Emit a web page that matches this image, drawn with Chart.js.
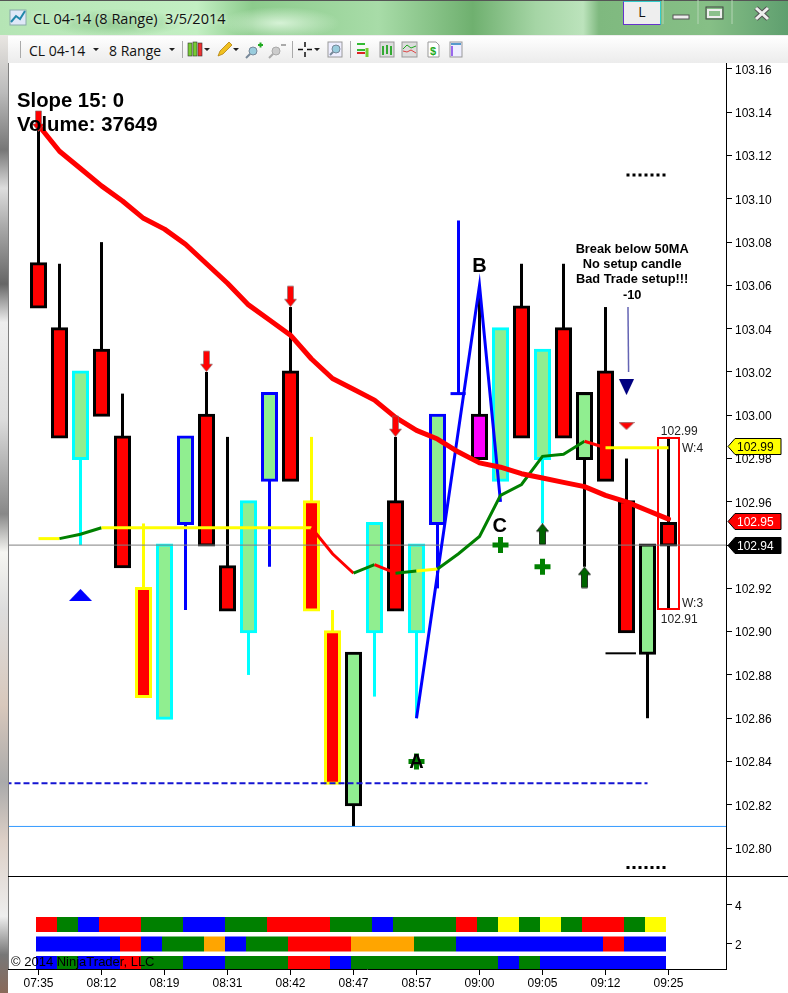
<!DOCTYPE html>
<html><head><meta charset="utf-8"><title>CL 04-14 (8 Range)</title>
<script src="https://cdn.jsdelivr.net/npm/chart.js@4"></script>
<style>
html,body{margin:0;padding:0;background:#fff;width:788px;height:993px;overflow:hidden}
#title{position:absolute;left:0;top:0;width:788px;height:35px;overflow:hidden;background:
 radial-gradient(ellipse 70px 14px at 115px 22px,#8fc98f 0%,rgba(143,201,143,0) 100%),
 radial-gradient(ellipse 60px 16px at 280px 22px,#d6f2d6 0%,rgba(214,242,214,0) 100%),
 linear-gradient(90deg,#b5e5b5 0%,#c3efc3 25%,#8ccb8c 32%,#a8dca8 48%,#6fb06f 60%,#a5d5a5 68%,#bce3bc 74%,#7fb97f 76%,#86bf86 90%,#5f9f6f 100%);
 border-top:1px solid #555;box-sizing:border-box}
#tt{position:absolute;left:33px;top:8px;font:14.5px "Open Sans",sans-serif;color:#111;white-space:pre;text-shadow:0 0 4px #eaffea}
#tools{position:absolute;left:8px;top:35px;width:780px;height:28px;background:linear-gradient(#fff,#f3f3f3 60%,#ececec);border-top:1px solid #eee;box-sizing:border-box}
.tb{position:absolute;top:41px;font:14px "Open Sans",sans-serif;color:#111;white-space:pre}
.sep{position:absolute;top:41px;width:1px;height:17px;background:#aaa}
.ic{position:absolute;left:0;top:0}
#strip{position:absolute;left:0;top:35px;width:8px;height:958px;background:linear-gradient(#e9e6e2 0%,#bbb 6%,#777 12%,#ddd 16%,#aaa 20%,#666 26%,#eee 30%,#ddd 40%,#888 50%,#f6f6f2 54%,#ddd 60%,#d8c8bc 70%,#aaa 78%,#dccfc6 84%,#eee 92%,#777 96%,#8a6a5a 100%)}
#c{position:absolute;left:0;top:63px}
#L{position:absolute;left:623px;top:1px;width:36px;height:22px;background:#eee;border:1px solid #3cc;border-bottom-color:#63c;border-left-color:#63c;font:14px "Open Sans",sans-serif;text-align:center;color:#111;line-height:20px}
</style></head><body>
<div id="title"><div id="tt">CL 04-14 (8 Range)  3/5/2014</div></div>
<div id="strip"></div>
<div id="tools"></div>
<div class="tb" style="left:29px">CL 04-14</div><div class="tb" style="left:109px">8 Range</div>
<div class="sep" style="left:20px"></div><div class="sep" style="left:182px"></div><div class="sep" style="left:292px"></div><div class="sep" style="left:350px"></div>
<div id="L">L</div>
<svg class="ic" width="788" height="63" viewBox="0 0 788 63">
 <rect x="10" y="10" width="16" height="15" fill="#dfe8f8" stroke="#8aa"/><path d="M11 22l5-6 4 3 5-8" stroke="#28a" stroke-width="2" fill="none"/>
 <path d="M93 48h6l-3 3zM169 48h6l-3 3zM204 48h6l-3 3zM233 48h6l-3 3zM314 48h6l-3 3z" fill="#222"/>
 <rect x="188" y="43" width="4" height="13" fill="#7c3" stroke="#333" stroke-width=".6"/><rect x="193" y="42" width="4" height="14" fill="#7c3" stroke="#333" stroke-width=".6"/><rect x="198" y="43" width="4" height="13" fill="#e33" stroke="#333" stroke-width=".6"/>
 <path d="M218 56l2-5 9-9 3 3-9 9z" fill="#f0c020" stroke="#a70" stroke-width=".7"/>
 <circle cx="253" cy="51" r="4" fill="#9cd" stroke="#789"/><path d="M250 54l-4 4" stroke="#789" stroke-width="2"/><path d="M258 45h5M260.5 42.500v5" stroke="#2a2" stroke-width="2"/>
 <circle cx="276" cy="51" r="4" fill="#ccc" stroke="#aaa"/><path d="M273 54l-4 4" stroke="#aaa" stroke-width="2"/><path d="M281 45h5" stroke="#aaa" stroke-width="2"/>
 <path d="M298 49.500h5M307 49.500h5M305 42v5M305 52v5" stroke="#111" stroke-width="1.500"/>
 <rect x="328" y="42" width="14" height="15" fill="#eef" stroke="#999"/><circle cx="336" cy="49" r="4" fill="#9cd" stroke="#789"/><path d="M333 52l-3 3" stroke="#789" stroke-width="2"/>
 <path d="M357 44h8M357 50h8" stroke="#3b3" stroke-width="2"/><path d="M357 53h8" stroke="#d22" stroke-width="2"/><path d="M367 48v9" stroke="#7c3" stroke-width="3"/>
 <rect x="380" y="42" width="14" height="15" fill="#ddd" stroke="#999"/><path d="M383 46v9M387 45v9M391 46v9" stroke="#3a3" stroke-width="2"/>
 <rect x="402" y="42" width="15" height="15" fill="#ddd" stroke="#999"/><path d="M403 49l4-4 4 3 5-2" stroke="#2a2" fill="none"/><path d="M403 51l4 1 4-2 5 3" stroke="#d44" fill="none"/>
 <path d="M428 42h8l3 3v12h-11z" fill="#fff" stroke="#999"/><text x="430" y="55" font-family="Liberation Sans" font-weight="bold" font-size="11" fill="#2a2">$</text>
 <rect x="450" y="42" width="12" height="15" fill="#eef" stroke="#999"/><rect x="451" y="43" width="10" height="2" fill="#59c"/><rect x="451" y="46" width="2" height="10" fill="#96e"/>
 <path d="M663 0V24M698 0V24M732 0V24" stroke="#b5d5b5" stroke-width="1"/>
 <rect x="673" y="15" width="16" height="4" fill="#eee" stroke="#555"/>
 <rect x="706" y="7" width="17" height="12" fill="none" stroke="#444" stroke-width="1"/><rect x="708" y="10" width="13" height="7" fill="#8bc08b" stroke="#eee" stroke-width="2"/>
 <path d="M756 8l12 11M768 8l-12 11" stroke="#555" stroke-width="5"/><path d="M756 8l12 11M768 8l-12 11" stroke="#eee" stroke-width="3"/>
</svg>
<canvas id="c" width="788" height="930"></canvas>
<script>
// ---- data ----
const timeLabels = ['07:35','08:12','08:19','08:31','08:42','08:47','08:57','09:00','09:05','09:12','09:25'];
const priceTicks = [103.16,103.14,103.12,103.10,103.08,103.06,103.04,103.02,103.00,102.98,102.96,102.94,102.92,102.90,102.88,102.86,102.84,102.82,102.80];
const panelTicks = [4,2];
const bodyTop    = [103.07,103.04,103.02,103.03,102.99,102.92,102.94,102.99,103.00,102.93,102.96,103.01,103.02,102.96,102.90,102.89,102.95,102.96,102.94,103.00,null,103.00,103.04,103.05,103.03,103.04,103.01,103.02,102.96,102.94,102.95];
const bodyBottom = [103.05,102.99,102.98,103.00,102.93,102.87,102.86,102.95,102.94,102.91,102.90,102.97,102.97,102.91,102.83,102.82,102.90,102.91,102.90,102.95,null,102.98,102.97,102.99,102.98,102.99,102.98,102.97,102.90,102.89,102.94];
const wickHigh   = [103.14,103.07,103.02,103.08,103.01,102.95,102.94,102.99,103.02,102.99,102.96,103.01,103.05,102.99,102.91,102.89,102.95,102.99,102.94,103.00,103.09,103.06,103.04,103.07,103.03,103.07,103.01,103.05,102.98,102.94,102.99];
const wickLow    = [103.05,102.99,102.94,103.00,102.93,102.87,102.86,102.91,102.94,102.91,102.88,102.93,102.97,102.91,102.83,102.81,102.87,102.91,102.86,102.92,103.01,102.98,102.97,102.99,102.95,102.99,102.93,102.97,102.90,102.86,102.91];
const barOutline = ['black','black','aqua','black','black','yellow','aqua','blue','black','black','aqua','blue','black','yellow','yellow','black','aqua','black','aqua','blue','blue','black','aqua','black','aqua','black','black','black','black','black','black'];
const barFill    = ['red','red','lightgreen','red','red','red','lightgreen','lightgreen','red','red','lightgreen','lightgreen','red','red','red','lightgreen','lightgreen','red','lightgreen','lightgreen','blue','magenta','lightgreen','red','lightgreen','red','lightgreen','red','red','lightgreen','red'];
const ma50 = [103.134,103.122,103.114,103.106,103.099,103.091,103.086,103.079,103.070,103.061,103.051,103.044,103.037,103.026,103.017,103.012,103.007,102.999,102.993,102.989,102.983,102.978,102.976,102.973,102.971,102.969,102.967,102.963,102.960,102.956,102.952];
const signal = [102.943,102.943,102.945,102.948,102.948,102.948,102.948,102.948,102.948,102.948,102.948,102.948,102.948,102.948,102.936,102.927,102.931,102.927,102.928,102.929,102.936,102.944,102.963,102.968,102.981,102.982,102.988,102.985,102.985,102.985,102.985];
const signalSeg = ['yellow','green','green','yellow','yellow','yellow','yellow','yellow','yellow','yellow','yellow','yellow','yellow','red','red','green','red','green','yellow','green','green','green','green','green','green','green','red','yellow','yellow','yellow'];
const stripA = ['red','green','blue','red','red','green','green','blue','blue','green','green','red','red','red','green','green','blue','green','green','green','red','green','yellow','green','yellow','green','red','red','green','yellow'];
const stripB = ['blue','blue','blue','blue','red','blue','green','green','orange','blue','green','green','red','red','red','orange','orange','orange','green','green','blue','blue','blue','blue','blue','blue','blue','red','blue','blue'];
const stripC = ['blue','green','blue','blue','red','green','green','blue','blue','green','green','green','red','red','blue','green','green','green','green','green','green','green','blue','green','blue','blue','blue','blue','blue','blue'];
const zigzagX = [18,21,22];
const zigzagY = [102.86,103.06,102.96];
const lastPrice = 102.94, dashedPrice = 102.83, lowLine = 102.81;
const downArrows = [[0,103.136],[8,103.025],[12,103.055],[17,102.995]];
const upArrows = [[24,102.945],[26,102.925]];
const plusMarks = [[22,102.94],[24,102.93],[18,102.84]];

const colourOf = {black:'#000',aqua:'#00ffff',yellow:'#ffff00',blue:'#0000ff',red:'#ff0000',green:'#008000',orange:'#ffa500',lightgreen:'#90ee90',magenta:'#ff00ff'};
const c = n => colourOf[n];
const idx = bodyTop.map((_,i)=>i);

function sprite(w,h,draw){const s=document.createElement('canvas');s.width=w;s.height=h;draw(s.getContext('2d'));return s;}
function arrow(fill,down,edge,lw){return sprite(13,22,g=>{
  if(down){g.translate(0,22);g.scale(1,-1);}
  g.beginPath();g.moveTo(6.500,.5);g.lineTo(12.5,8);g.lineTo(9.5,8);g.lineTo(9.5,21);g.lineTo(3.5,21);g.lineTo(3.5,8);g.lineTo(.5,8);g.closePath();
  g.fillStyle=fill;g.fill();g.strokeStyle=edge;g.lineWidth=lw;g.stroke();});}
const triUp=sprite(23,12,g=>{g.beginPath();g.moveTo(11.5,0);g.lineTo(23,12);g.lineTo(0,12);g.closePath();g.fillStyle='#0000ff';g.fill();});
const triNavy=sprite(15,16,g=>{g.beginPath();g.moveTo(0,0);g.lineTo(15,0);g.lineTo(7.500,16);g.closePath();g.fillStyle='#000080';g.fill();});
const triRed=sprite(16,8,g=>{g.beginPath();g.moveTo(.5,.5);g.lineTo(15.5,.5);g.lineTo(8,7.500);g.closePath();g.fillStyle='#ff0000';g.fill();g.strokeStyle='#966';g.lineWidth=.8;g.stroke();});
const arrowDown=arrow('#ff0000',true,'#777',.6), arrowUp=arrow('#006400',false,'#111',.8);

const line=(data,colour,width,extra)=>Object.assign({type:'line',data,borderColor:colour,borderWidth:width,pointRadius:0,tension:0,fill:false,xAxisID:'x',yAxisID:'y'},extra||{});
const pts=(d,st,r,extra)=>Object.assign({type:'scatter',data:d.map(p=>({x:p[0],y:p[1]})),pointStyle:st,pointRadius:r,xAxisID:'x',yAxisID:'y',showLine:false},extra||{});
const stripShift=8/21;
const strip=(arr,level)=>({type:'bar',data:arr.map((n,i)=>({x:i+stripShift,y:[level-0.385,level+0.385]})),backgroundColor:arr.map(c),barThickness:21,grouped:false,inflateAmount:0,borderWidth:0,xAxisID:'x',yAxisID:'y2',order:40});
const solid=idx.filter(i=>bodyTop[i]!==null);

const datasets=[
 strip(stripA,3), strip(stripB,2), strip(stripC,1),
 {type:'bar',data:idx.map(i=>({x:i,y:[wickLow[i],wickHigh[i]]})),backgroundColor:barOutline.map(c),barThickness:3,grouped:false,inflateAmount:0,xAxisID:'x',yAxisID:'y',order:30},
 {type:'bar',data:solid.map(i=>({x:i,y:[bodyBottom[i],bodyTop[i]]})),
  backgroundColor:solid.map(i=>c(barFill[i])),borderColor:solid.map(i=>c(barOutline[i])),borderWidth:3,borderSkipped:false,barThickness:14,grouped:false,inflateAmount:1.5,xAxisID:'x',yAxisID:'y',order:29},
 {type:'bar',data:[{x:30,y:[wickLow[30],wickHigh[30]]}],backgroundColor:'rgba(0,0,0,0)',borderColor:'#ff0000',borderWidth:2,borderSkipped:false,barThickness:23,grouped:false,inflateAmount:0,xAxisID:'x',yAxisID:'y',order:28},
 line([{x:-2,y:lowLine},{x:34,y:lowLine}],'#3399ff',1,{order:27}),
 line([{x:-2,y:dashedPrice},{x:29,y:dashedPrice}],'#1414d2',2,{borderDash:[6,3],order:9}),
 line([{x:-2,y:lastPrice},{x:34,y:lastPrice}],'#808080',1,{order:10}),
 line([{x:19.62,y:wickLow[20]},{x:20.34,y:wickLow[20]}],c('blue'),3,{order:8}),
 line(zigzagX.map((x,i)=>({x,y:zigzagY[i]})),c('blue'),3,{order:7}),
 line([{x:27,y:102.89},{x:28.45,y:102.89}],'#000',2,{order:7}),
 line([{x:28,y:103.111},{x:29.9,y:103.111}],'#000',3,{borderDash:[3,3],order:7}),
 line([{x:28,y:102.791},{x:29.9,y:102.791}],'#000',3,{borderDash:[3,3],order:7}),
 line([{x:28.07,y:103.05},{x:28.1,y:103.02}],'#6464b4',1.5,{order:7}),
 line(signal.map((y,x)=>({x,y})),'#008000',3,{order:6,segment:{borderColor:s=>c(signalSeg[s.p0DataIndex])}}),
 line(ma50.map((y,x)=>({x,y})),'#ff0000',5,{order:5,borderCapStyle:'round',borderJoinStyle:'round'}),
 pts(downArrows,arrowDown,10,{order:4}),
 pts(upArrows,arrowUp,10,{order:4}),
 pts([[2,102.917]],triUp,10,{order:4}),
 pts([[28,103.013]],triNavy,10,{order:4}),
 pts([[28,102.995]],triRed,10,{order:4}),
 pts(plusMarks,'cross',8,{borderColor:'#008000',borderWidth:5,order:3}),
];

const sans='"Liberation Sans",Arial,sans-serif';
const notes=[
 {t:'Slope 15: 0',i:-1.024,p:103.1455,f:'bold 20.3px '+sans,a:'left',col:'#000'},
 {t:'Volume: 37649',i:-1.024,p:103.1345,f:'bold 20.3px '+sans,a:'left',col:'#000'},
 {t:'A',i:18,p:102.84,f:'bold 20px '+sans,a:'center',col:'#000'},
 {t:'B',i:21,p:103.069,f:'bold 20px '+sans,a:'center',col:'#000'},
 {t:'C',i:21.96,p:102.949,f:'bold 20px '+sans,a:'center',col:'#000'},
 {t:'Break below 50MA',i:28.27,p:103.077,f:'bold 12.800px '+sans,a:'center',col:'#000'},
 {t:'No setup candle',i:28.27,p:103.070,f:'bold 12.800px '+sans,a:'center',col:'#000'},
 {t:'Bad Trade setup!!!',i:28.27,p:103.063,f:'bold 12.800px '+sans,a:'center',col:'#000'},
 {t:'-10',i:28.27,p:103.056,f:'bold 12.800px '+sans,a:'center',col:'#000'},
 {t:'102.99',i:30.51,p:102.993,f:'12px '+sans,a:'center',col:'#222'},
 {t:'W:4',i:30.64,p:102.985,f:'12px '+sans,a:'left',col:'#222'},
 {t:'W:3',i:30.64,p:102.9135,f:'12px '+sans,a:'left',col:'#222'},
 {t:'102.91',i:30.51,p:102.906,f:'12px '+sans,a:'center',col:'#222'},
];
const tags=[{p:102.986,t:'102.99',bg:'#ffff00',fg:'#000'},{p:102.951,t:'102.95',bg:'#ff0000',fg:'#fff'},{p:102.94,t:'102.94',bg:'#000',fg:'#fff'}];

const overlay={id:'overlay',afterDatasetsDraw(ch){
  const g=ch.ctx,{x,y,y2}=ch.scales;
  g.save();
  g.strokeStyle='#808080';g.lineWidth=1;g.beginPath();g.moveTo(8.5,0);g.lineTo(8.5,y2.bottom);g.stroke();
  g.strokeStyle='#000';g.beginPath();g.moveTo(8,Math.round(y.bottom)+.5);g.lineTo(788,Math.round(y.bottom)+.5);g.stroke();
  g.textBaseline='middle';
  for(const n of notes){g.font=n.f;g.textAlign=n.a;g.fillStyle=n.col;g.fillText(n.t,x.getPixelForValue(n.i),y.getPixelForValue(n.p)+1);}
  g.font='13px '+sans;g.textAlign='left';g.fillStyle='#000';g.fillText('\u00a9 2014 NinjaTrader, LLC',11,y2.getPixelForValue(1.05));
  for(const t of tags){const py=Math.round(y.getPixelForValue(t.p))+.5;const r=x.right;
    g.beginPath();g.moveTo(r+2,py);g.lineTo(r+9,py-8);g.lineTo(r+55,py-8);g.lineTo(r+55,py+8);g.lineTo(r+9,py+8);g.closePath();
    g.fillStyle=t.bg;g.fill();g.strokeStyle='#000';g.lineWidth=1;g.stroke();
    g.font='12px '+sans;g.fillStyle=t.fg;g.textAlign='left';g.fillText(t.t,r+11,py+1);}
  g.restore();
}};
const noPad=s=>{s.paddingTop=0;s.paddingBottom=0;s.paddingLeft=0;s.paddingRight=0;};
const tickGrid={drawOnChartArea:false,drawTicks:true,tickLength:6,tickColor:'#000'};

new Chart(document.getElementById('c'),{
 data:{datasets},
 plugins:[overlay],
 options:{responsive:false,animation:false,devicePixelRatio:1,
  layout:{autoPadding:false,padding:{left:8,right:0,top:0,bottom:0}},
  plugins:{legend:{display:false},tooltip:{enabled:false}},
  scales:{
   x:{type:'linear',offset:false,position:'bottom',min:-30.5/21,max:-30.5/21+718/21,grid:Object.assign({offset:false},tickGrid),border:{color:'#000'},
      afterBuildTicks:s=>{s.ticks=timeLabels.map((_,k)=>({value:k*3}));},
      afterFit:s=>{s.height=24;noPad(s);},
      ticks:{autoSkip:false,maxRotation:0,color:'#000',font:{family:'Liberation Sans',size:12},padding:1,callback:(v)=>timeLabels[Math.round(v/3)]}},
   y:{type:'linear',position:'right',stack:'panes',stackWeight:813,min:102.7871,max:103.16277,grid:tickGrid,border:{color:'#000'},
      afterBuildTicks:s=>{s.ticks=priceTicks.map(value=>({value}));},
      afterFit:s=>{s.width=62;noPad(s);},
      ticks:{autoSkip:false,color:'#000',font:{family:'Liberation Sans',size:12},padding:3,labelOffset:1.5,callback:v=>v.toFixed(2)}},
   y2:{type:'linear',position:'right',stack:'panes',stackWeight:93,min:0.718,max:5.487,grid:tickGrid,border:{color:'#000'},
      afterBuildTicks:s=>{s.ticks=panelTicks.map(value=>({value}));},
      afterFit:s=>{s.width=62;noPad(s);},
      ticks:{autoSkip:false,color:'#000',font:{family:'Liberation Sans',size:12},padding:3,labelOffset:1.5,callback:v=>String(v)}}
  }}
});
</script>
</body></html>
